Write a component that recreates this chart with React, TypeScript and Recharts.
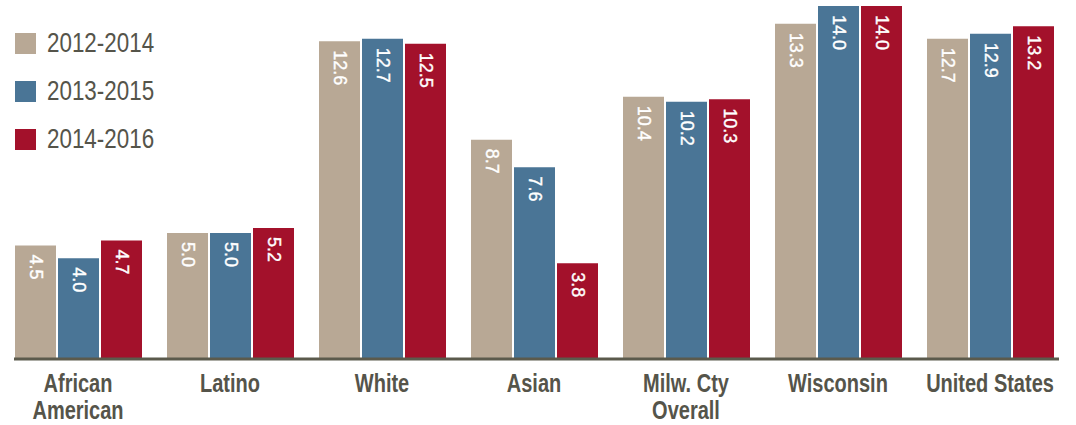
import { BarChart, Bar, XAxis, YAxis, LabelList } from 'recharts';

const categories = ['African American', 'Latino', 'White', 'Asian', 'Milw. Cty Overall', 'Wisconsin', 'United States'];
const tickLines = [['African', 'American'], ['Latino'], ['White'], ['Asian'], ['Milw. Cty', 'Overall'], ['Wisconsin'], ['United States']];
const period1 = [4.5, 5.0, 12.6, 8.7, 10.4, 13.3, 12.7];
const period2 = [4.0, 5.0, 12.7, 7.6, 10.2, 14.0, 12.9];
const period3 = [4.7, 5.2, 12.5, 3.8, 10.3, 14.0, 13.2];
const seriesNames = ['2012-2014', '2013-2015', '2014-2016'];

const COLORS = ['#b8a895', '#4a7596', '#a3112b'];
const TEXT = '#55544a';
const FONT = "'Liberation Sans', Arial, sans-serif";
// no narrow font installed, so squeeze the text horizontally instead
const SQUEEZE = 0.8;

const data = categories.map((name, i) => ({
    name,
    p1: period1[i],
    p2: period2[i],
    p3: period3[i],
}));

const BarValue = (props: any) => {
    const { x, y, width, value } = props;
    const cx = x + width / 2;
    const ty = y + 9;
    return (
        <g transform={`translate(${cx} ${ty}) rotate(90)`}>
            <text
                x={0}
                y={0}
                fill="#fff"
                fontSize={18}
                fontFamily={FONT}
                stroke="#fff"
                strokeWidth={0.4}
                textAnchor="start"
                dominantBaseline="central"
            >
                {Number(value).toFixed(1)}
            </text>
        </g>
    );
};

const CategoryTick = (props: any) => {
    const { x, y, payload } = props;
    const lines = tickLines[payload.index] || [payload.value];
    return (
        <g transform={`translate(${x} ${y}) scale(${SQUEEZE} 1)`}>
            {lines.map((line: string, i: number) => (
                <text
                    key={i}
                    x={0}
                    y={25 + i * 27}
                    textAnchor="middle"
                    fill={TEXT}
                    fontSize={25}
                    fontWeight="bold"
                    fontFamily={FONT}
                >
                    {line}
                </text>
            ))}
        </g>
    );
};

const LegendBox = () => (
    <div style={{ position: 'absolute', left: 15, top: 19, fontFamily: FONT }}>
        {seriesNames.map((s, i) => (
            <div key={s} style={{ display: 'flex', alignItems: 'center', height: 48 }}>
                <span style={{ width: 21, height: 21, background: COLORS[i], display: 'inline-block', marginRight: 11 }} />
                <span
                    style={{
                        color: TEXT,
                        fontSize: 28,
                        lineHeight: '28px',
                        display: 'inline-block',
                        transform: `scaleX(${SQUEEZE})`,
                        transformOrigin: 'left center',
                    }}
                >
                    {s}
                </span>
            </div>
        ))}
    </div>
);

const App = () => {
    return (
        <div style={{ position: 'fixed', left: 0, top: 0, width: 1076, height: 425, background: '#fff' }}>
            <BarChart
                width={1076}
                height={425}
                data={data}
                margin={{ top: 6, right: 17, bottom: 0, left: 14 }}
                barSize={41}
                barGap={2}
            >
                <XAxis
                    dataKey="name"
                    height={66}
                    padding={{ left: -12, right: -7 }}
                    axisLine={{ stroke: '#5b5a4c', strokeWidth: 3 }}
                    tickLine={false}
                    tick={<CategoryTick />}
                    interval={0}
                />
                <YAxis hide domain={[0, 14]} />
                <Bar dataKey="p1" name={seriesNames[0]} fill={COLORS[0]} isAnimationActive={false}>
                    <LabelList dataKey="p1" content={<BarValue />} />
                </Bar>
                <Bar dataKey="p2" name={seriesNames[1]} fill={COLORS[1]} isAnimationActive={false}>
                    <LabelList dataKey="p2" content={<BarValue />} />
                </Bar>
                <Bar dataKey="p3" name={seriesNames[2]} fill={COLORS[2]} isAnimationActive={false}>
                    <LabelList dataKey="p3" content={<BarValue />} />
                </Bar>
            </BarChart>
            <LegendBox />
        </div>
    );
};

export default App;
